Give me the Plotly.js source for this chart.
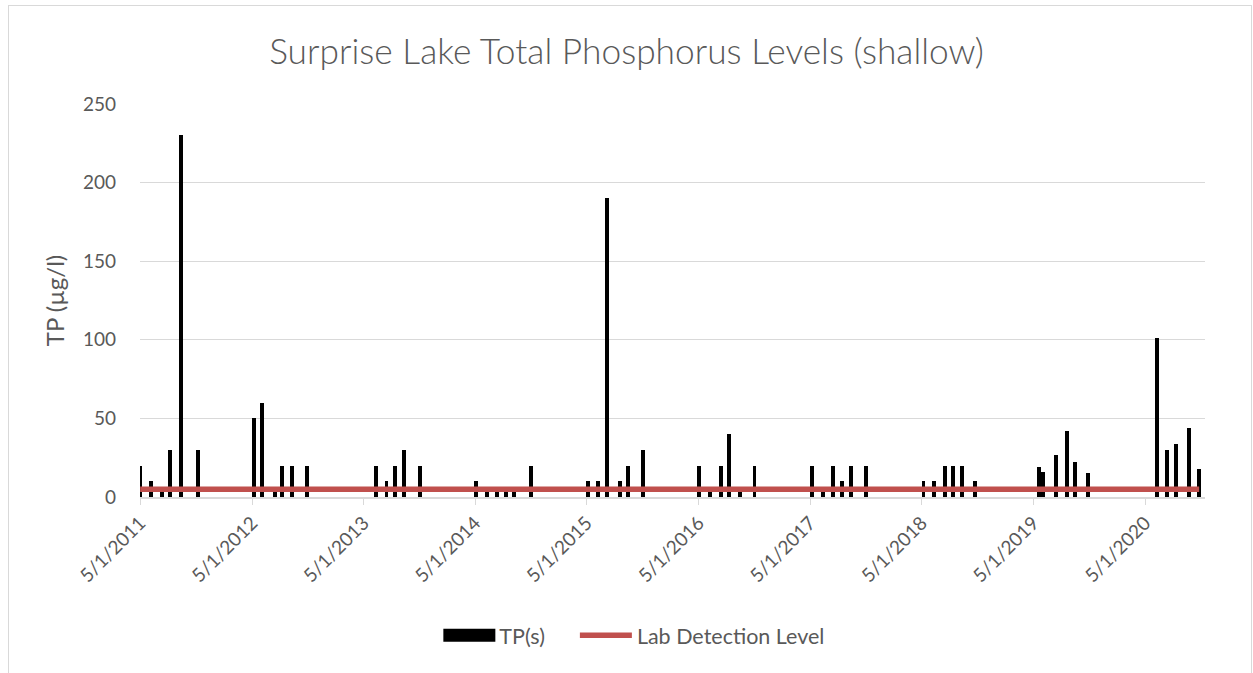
<!DOCTYPE html>
<html>
<head>
<meta charset="utf-8">
<script src="https://cdn.plot.ly/plotly-3.0.1.min.js"></script>
<style>
  html, body { margin: 0; padding: 0; background: #ffffff; }
  #chart { position: absolute; left: 0; top: 0; width: 1253px; height: 673px; }
  #frame { position: absolute; left: 8px; top: 5px; width: 1242px; height: 675px; border: 1px solid #D9D9D9; pointer-events: none; }
</style>
</head>
<body>
<div id="chart"></div>
<div id="frame"></div>
<script>
// Sampling dates and total phosphorus (shallow), µg/l
const sampleDates = [
  '2011-05-01','2011-06-06','2011-07-12','2011-08-06','2011-09-11','2011-11-05',
  '2012-05-08','2012-06-04','2012-07-15','2012-08-06','2012-09-10','2012-10-29',
  '2013-06-10','2013-07-15','2013-08-11','2013-09-10','2013-11-03',
  '2014-05-03','2014-06-08','2014-07-13','2014-08-09','2014-09-06','2014-10-31',
  '2015-05-04','2015-06-06','2015-07-08','2015-08-18','2015-09-13','2015-11-01',
  '2016-05-01','2016-06-07','2016-07-12','2016-08-09','2016-09-13','2016-10-31',
  '2017-05-07','2017-06-12','2017-07-16','2017-08-13','2017-09-12','2017-10-31',
  '2018-05-07','2018-06-11','2018-07-16','2018-08-13','2018-09-10','2018-10-22',
  '2019-05-20','2019-06-03','2019-07-14','2019-08-18','2019-09-15','2019-10-27',
  '2020-06-08','2020-07-13','2020-08-10','2020-09-21','2020-10-25'
];
const tpValues = [
  20, 10, 5, 30, 230, 30,
  50, 60, 5, 20, 20, 20,
  20, 10, 20, 30, 20,
  10, 5, 5, 5, 5, 20,
  10, 10, 190, 10, 20, 30,
  20, 5, 20, 40, 5, 20,
  20, 5, 20, 10, 20, 20,
  10, 10, 20, 20, 20, 10,
  19, 16, 27, 42, 22, 15,
  101, 30, 34, 44, 18
];
// Lab detection level line
const labDates = ['2011-05-01', '2020-10-25'];
const labValues = [5, 5];
// Axis ticks
const xTickVals = ['2011-05-01','2012-05-01','2013-05-01','2014-05-01','2015-05-01',
                   '2016-05-01','2017-05-01','2018-05-01','2019-05-01','2020-05-01'];
const xTickText = ['5/1/2011','5/1/2012','5/1/2013','5/1/2014','5/1/2015',
                   '5/1/2016','5/1/2017','5/1/2018','5/1/2019','5/1/2020'];
const yTickVals = [0, 50, 100, 150, 200, 250];

const FONT = 'Lato, "Open Sans", sans-serif';
const GREY = '#595959';
const DAY = 86400000;

const traces = [
  {
    type: 'bar',
    name: 'TP(s)',
    x: sampleDates,
    y: tpValues,
    width: 13 * DAY,
    marker: { color: '#000000', line: { width: 0 } },
    hoverinfo: 'x+y'
  },
  {
    type: 'scatter',
    mode: 'lines',
    name: 'Lab Detection Level',
    x: labDates,
    y: labValues,
    line: { color: '#C0504D', width: 5.5 }
  }
];

const layout = {
  width: 1253,
  height: 673,
  paper_bgcolor: 'rgba(0,0,0,0)',
  plot_bgcolor: '#ffffff',
  margin: { l: 139.5, r: 48, t: 104, b: 175.5 },
  font: { family: FONT, color: GREY, size: 19 },
  title: {
    text: 'Surprise Lake Total Phosphorus Levels (shallow)',
    font: { family: FONT, size: 35.3, color: GREY, weight: 300 },
    x: 0.5, xanchor: 'center',
    y: 1 - 52 / 673, yref: 'container', yanchor: 'middle'
  },
  showlegend: true,
  legend: {
    orientation: 'h',
    x: 0.2792, xanchor: 'left',
    y: -0.352, yanchor: 'middle',
    font: { family: FONT, size: 21.5, color: GREY },
    traceorder: 'normal',
    itemwidth: 52
  },
  bargap: 0,
  xaxis: {
    type: 'date',
    range: ['2011-04-30 12:00', '2020-11-13'],
    tickmode: 'array',
    tickvals: xTickVals,
    ticktext: xTickText,
    tickangle: -45,
    ticks: 'outside',
    ticklen: 6,
    tickcolor: '#D9D9D9',
    tickwidth: 1,
    showgrid: false,
    showline: true,
    linecolor: '#D9D9D9',
    linewidth: 1.5,
    zeroline: false,
    tickfont: { family: FONT, size: 19, color: GREY },
    fixedrange: true
  },
  yaxis: {
    range: [0, 250],
    tickmode: 'array',
    tickvals: yTickVals,
    showgrid: true,
    gridcolor: '#D9D9D9',
    gridwidth: 1.3,
    zeroline: false,
    showline: false,
    ticks: '',
    ticklabelstandoff: 23,
    tickfont: { family: FONT, size: 19, color: GREY },
    title: { text: 'TP (µg/l)', font: { family: FONT, size: 24, color: GREY }, standoff: 11 },
    fixedrange: true
  }
};

Plotly.newPlot('chart', traces, layout, { displayModeBar: false, staticPlot: true }).then(function (gd) {
  const legend = gd.querySelector('.legend');
  if (!legend) return;
  // let legend entries extend past Plotly's computed legend box
  legend.querySelectorAll('[clip-path]').forEach(function (el) { el.removeAttribute('clip-path'); });
  const items = legend.querySelectorAll('.traces');
  // widen the bar legend swatch into a rectangle, as in the reference legend
  if (items.length) {
    const barPath = items[0].querySelector('.legendpoints path');
    if (barPath) {
      barPath.setAttribute('d', 'M-26,-6.5H26V6.5H-26Z');
      barPath.setAttribute('transform', 'translate(32,0)');
    }
  }
  // wider gap between the two legend entries
  if (items.length > 1) {
    const t = items[1].getAttribute('transform') || '';
    const m = t.match(/translate\(\s*([-\d.]+)[ ,]+([-\d.]+)\s*\)/);
    if (m) {
      items[1].setAttribute('transform', 'translate(' + (parseFloat(m[1]) + 25) + ',' + m[2] + ')');
    }
  }
});
</script>
</body>
</html>
